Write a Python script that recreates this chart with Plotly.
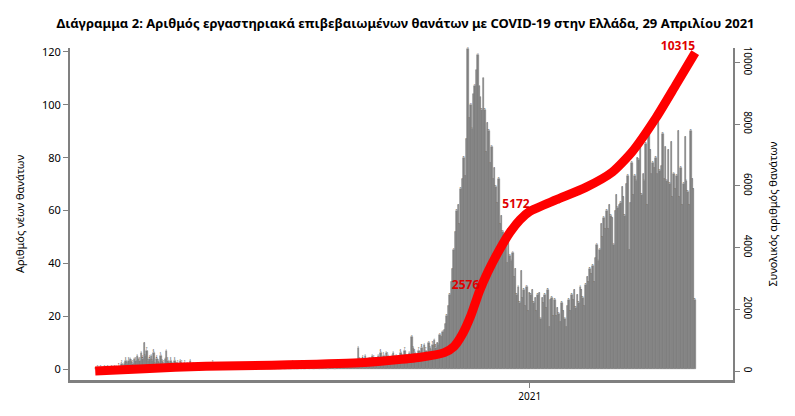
import pandas as pd
import plotly.graph_objects as go

# daily deaths, starting 2020-02-26
zeros_start = [0] * 15
spring_2020 = [1, 0, 1, 1, 2, 1, 2, 3, 2, 3, 4, 3, 2, 4, 3, 5, 4, 3, 6, 4, 10, 5, 7, 3, 4, 5, 3, 6, 2, 4,
               3, 2, 5, 3, 2, 4, 7, 3, 2, 3, 2, 1, 3, 2, 2, 1, 3, 2, 1, 2, 1, 2, 1, 3, 1, 2, 1, 1, 2, 1]
summer_2020 = [1, 0, 1, 2, 1, 0, 1, 1, 0, 2, 1, 0, 0, 1, 1, 0, 2, 0, 1, 1, 0, 0, 1, 0, 1, 2, 0, 0, 1, 0,
               0, 1, 0, 0, 1, 0, 0, 0, 1, 0, 2, 0, 0, 1, 0, 0, 0, 1, 0, 0, 0, 0, 1, 0, 0, 1, 0, 0, 0, 1,
               0, 0, 1, 0, 0, 0, 2, 0, 1, 0, 0, 1, 0, 1, 0, 0, 1, 2, 0, 1, 1, 0, 2, 1, 1, 0, 2, 1, 1, 2,
               1, 0, 2, 1, 1, 2, 0, 1, 2, 1, 1, 2, 1, 3, 1, 2, 1, 2, 3, 2, 1, 2, 3]
autumn_2020 = [8, 3, 2, 4, 3, 5, 2, 4, 3, 4, 5, 4, 3, 2, 5, 4, 6, 3, 5, 4, 6, 5, 4, 3, 5, 6, 4, 5, 3, 4,
               6, 5, 4, 7, 5, 4, 6, 5, 12, 8, 6, 4, 5, 7, 6, 8, 5, 9, 7, 6, 10, 8, 7, 9, 11]
late_oct_2020 = [8, 10, 9, 13, 12, 14, 15, 17, 20, 24, 28, 33, 38, 45, 52, 60]
nov_dec_2020 = [62, 55, 68, 72, 80, 73, 87, 121, 95, 100, 91, 104, 107, 113, 119, 107, 103, 98, 110, 98,
                82, 93, 90, 78, 84, 72, 76, 69, 63, 72, 55, 58, 52, 45, 49, 40, 53, 43, 41, 44,
                35, 38, 28, 31, 25, 37, 27, 30, 24, 31, 22]
jan_2021 = [29, 28, 30, 25, 27, 22, 28, 29, 19, 27, 25, 28, 23, 30, 16, 26, 27, 20, 26, 20, 23, 21, 18,
            25, 22, 19, 16, 24, 26, 22, 28]
feb_2021 = [26, 30, 23, 28, 25, 31, 30, 27, 24, 32, 35, 33, 38, 36, 39, 33, 42, 47, 41, 45, 55, 50, 57,
            53, 60, 53, 62, 58]
mar_2021 = [57, 47, 60, 66, 61, 62, 63, 69, 65, 58, 70, 73, 45, 63, 78, 66, 73, 71, 80, 79, 87, 66, 74,
            71, 85, 62, 90, 83, 74, 78, 76]
apr_2021 = [80, 74, 95, 75, 77, 89, 72, 84, 71, 83, 70, 86, 65, 74, 68, 73, 90, 65, 76, 62, 70, 88, 71,
            67, 62, 90, 72, 68, 26]

daily = (zeros_start + spring_2020 + summer_2020 + autumn_2020 + late_oct_2020 + nov_dec_2020
         + jan_2021 + feb_2021 + mar_2021 + apr_2021)
dates = pd.date_range(end="2021-04-29", periods=len(daily))

# cumulative deaths (read at selected dates)
cum_dates = ["2020-02-26", "2020-04-01", "2020-05-15", "2020-07-01", "2020-09-01", "2020-10-15",
             "2020-11-01", "2020-11-08", "2020-11-14", "2020-11-20", "2020-11-26", "2020-12-02",
             "2020-12-10", "2020-12-18", "2020-12-25", "2021-01-01", "2021-01-20", "2021-02-10",
             "2021-03-01", "2021-03-15", "2021-04-01", "2021-04-15", "2021-04-29"]
cum_values = [0, 80, 160, 190, 270, 450, 600, 800, 1200, 1800, 2576, 3200,
              3900, 4500, 4900, 5172, 5550, 5950,
              6450, 7100, 8200, 9250, 10315]
cum_labels = {"2020-11-26": "2576", "2021-01-01": "5172", "2021-04-29": "10315"}

fig = go.Figure()
fig.add_trace(go.Bar(
    x=dates, y=daily, marker=dict(color="#808080", line=dict(width=0.6, color="#808080")),
    text=[str(v) for v in daily], textposition="outside", cliponaxis=False,
    textfont=dict(size=4, color="black"), showlegend=False,
))
fig.add_trace(go.Scatter(
    x=cum_dates, y=cum_values, yaxis="y2", mode="lines+text", cliponaxis=False,
    line=dict(color="#ff0000", width=9, shape="spline", smoothing=0.6),
    text=[cum_labels.get(d, "") for d in cum_dates], textposition="top left",
    textfont=dict(color="#e00000", size=12, family="Noto Sans"), showlegend=False,
    texttemplate="<b>%{text}</b>",
))
fig.update_layout(
    title=dict(text="<b>Διάγραμμα 2: Αριθμός εργαστηριακά επιβεβαιωμένων θανάτων με COVID-19 στην Ελλάδα, 29 Απριλίου 2021</b>",
               x=0.5, y=0.975, font=dict(size=13, family="Noto Sans", color="black")),
    width=795, height=416, bargap=0, template="plotly_white",
    plot_bgcolor="white", paper_bgcolor="white",
    margin=dict(l=62, r=70, t=40, b=44),
    font=dict(family="Noto Sans", size=11, color="black"),
    xaxis=dict(range=["2020-02-08", "2021-05-26"], tickvals=["2021-01-01"], ticktext=["2021"],
               showgrid=False, zeroline=False, showline=True, linecolor="#808080", linewidth=3,
               ticks="outside", tickcolor="#808080", tickfont=dict(size=10)),
    yaxis=dict(range=[-4.1, 121.5], tickvals=[0, 20, 40, 60, 80, 100, 120], showgrid=False,
               zeroline=False, showline=True, linecolor="#808080", linewidth=2, ticks="outside",
               tickcolor="#808080", title=dict(text="Αριθμός νέων θανάτων", font=dict(size=11))),
    yaxis2=dict(range=[-288, 10464], overlaying="y", side="right", showgrid=False, zeroline=False,
                tickvals=[0, 2000, 4000, 6000, 8000, 10000], ticktext=["0", "2000", "4000", "6000", "8000", "10000"],
                tickangle=90, showline=True,
                linecolor="#808080", linewidth=2, ticks="outside", tickcolor="#808080",
                tickfont=dict(size=10),
                title=dict(text="Συνολικός αριθμός θανάτων", font=dict(size=11))),
)
fig.write_html("out.html")
